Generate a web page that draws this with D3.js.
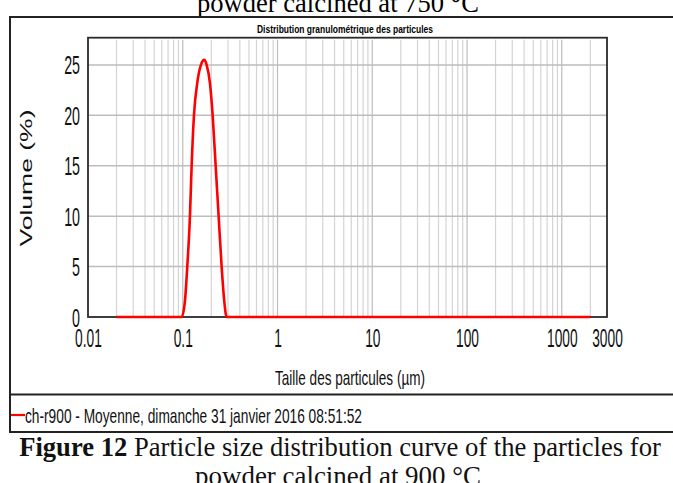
<!DOCTYPE html>
<html><head><meta charset="utf-8">
<script src="https://cdn.jsdelivr.net/npm/d3@7"></script>
<style>body{margin:0;background:#fff;} svg{display:block}</style>
</head><body>
<svg id="c" width="673" height="483"></svg>
<script>
// ---- data ----
const sizes   = [0.02, 0.09, 0.0974, 0.1055, 0.1116, 0.1191, 0.1241, 0.1313, 0.1422, 0.1556, 0.1686, 0.1787, 0.1936, 0.2068, 0.2224, 0.2391, 0.2572, 0.2740, 0.2905, 0.32, 2000];
const volumes = [0,    0,    0,      1.6,    5,      10,     15,     20,     23.2,   25,     25.5,   25,     23.2,   20,     15,     10,     5,      1.6,    0,      0,    0];
const xTicks = [0.01, 0.1, 1, 10, 100, 1000, 3000];
const xTickLabels = ["0.01", "0.1", "1", "10", "100", "1000", "3000"];
const yTicks = [0, 5, 10, 15, 20, 25];
const chartTitle = "Distribution granulométrique des particules";
const xTitle = "Taille des particules (µm)";
const yTitle = "Volume (%)";
const legendLabel = "ch-r900 - Moyenne, dimanche 31 janvier 2016 08:51:52";
const topCaption = "powder calcined at 750 °C";
const capBold = "Figure 12";
const capRest = " Particle size distribution curve of the particles for";
const capLine2 = "powder calcined at 900 °C";

const svg = d3.select("#c");
const L = 88, R = 607, T = 37.7, B = 317;
const x = d3.scaleLog().domain([0.01, 3000]).range([L, R]);
const y = d3.scaleLinear().domain([0, 27.7]).range([B, T]);
const sans = "'Liberation Sans', Arial, sans-serif";
const serif = "'Liberation Serif', 'Times New Roman', serif";

function condense(sel, f) {
  sel.each(function () {
    const len = this.getComputedTextLength();
    d3.select(this).attr("textLength", len * f).attr("lengthAdjust", "spacingAndGlyphs");
  });
}
function fitWidth(sel, w) {
  sel.attr("textLength", w).attr("lengthAdjust", "spacingAndGlyphs");
}

// top caption (cut off)
const tc = svg.append("text").attr("x", 338).attr("y", 12).attr("text-anchor", "middle")
  .attr("font-family", serif).attr("font-size", 22).text(topCaption);
{ const len = tc.node().getComputedTextLength(); tc.attr("font-size", 22 * 282 / len); }

// frame
const frame = svg.append("g").attr("stroke", "#222").attr("stroke-width", 2).attr("fill", "none");
frame.append("path").attr("d", `M680,17H10V432H680`);
frame.append("line").attr("x1", 10).attr("x2", 680).attr("y1", 394.5).attr("y2", 394.5);

// chart title
svg.append("text").attr("x", 345).attr("y", 33.3).attr("text-anchor", "middle")
  .attr("font-family", sans).attr("font-weight", "bold").attr("font-size", 10.5)
  .text(chartTitle).call(fitWidth, 176);

// grid
const grid = svg.append("g");
const minor = x.ticks().filter(v => v > 0.0100001 && v < 2999);
grid.selectAll("line.v").data(minor).join("line")
  .attr("x1", d => x(d)).attr("x2", d => x(d)).attr("y1", T + 2).attr("y2", B)
  .attr("stroke", d => xTicks.includes(d) ? "#bdbdbd" : "#d4d4d4").attr("stroke-width", 1.2);
grid.selectAll("line.h").data(yTicks.filter(v => v > 0)).join("line")
  .attr("x1", L).attr("x2", R).attr("y1", d => y(d)).attr("y2", d => y(d))
  .attr("stroke", "#bdbdbd").attr("stroke-width", 1.5);

// axes labels via d3 axes
const gx = svg.append("g").attr("transform", `translate(0,${B})`)
  .call(d3.axisBottom(x).tickValues(xTicks).tickFormat((d, i) => xTickLabels[i]).tickSize(0).tickPadding(0));
gx.select(".domain").remove();
gx.selectAll("text").attr("dy", null).attr("y", 30).attr("font-family", sans).attr("font-size", 25).attr("fill", "#111")
  .call(condense, 0.55);

const gy = svg.append("g").attr("transform", `translate(${L},0)`)
  .call(d3.axisLeft(y).tickValues(yTicks).tickSize(0).tickPadding(0));
gy.select(".domain").remove();
gy.selectAll("text").attr("dy", null).attr("x", -8).attr("y", 9).attr("font-family", sans).attr("font-size", 25).attr("fill", "#111")
  .call(condense, 0.57);

// plot border
svg.append("rect").attr("x", L).attr("y", T).attr("width", R - L).attr("height", B - T)
  .attr("fill", "none").attr("stroke", "#2a2a2a").attr("stroke-width", 1.8);

// curve
const line = d3.line().x((d, i) => x(sizes[i])).y(d => y(d)).curve(d3.curveMonotoneX);
svg.append("path").datum(volumes).attr("d", line).attr("fill", "none")
  .attr("stroke", "#ff0000").attr("stroke-width", 2.6).attr("stroke-linejoin", "round");

// axis titles
svg.append("text").attr("x", 350).attr("y", 385).attr("text-anchor", "middle")
  .attr("font-family", sans).attr("font-size", 21).attr("fill", "#111").text(xTitle).call(fitWidth, 150);
svg.append("text").attr("transform", "translate(32,178) rotate(-90)").attr("text-anchor", "middle")
  .attr("font-family", sans).attr("font-size", 16).attr("fill", "#111").text(yTitle).call(fitWidth, 137);

// legend
svg.append("line").attr("x1", 11).attr("x2", 25).attr("y1", 415).attr("y2", 415)
  .attr("stroke", "#ff0000").attr("stroke-width", 2.2);
svg.append("text").attr("x", 25).attr("y", 423).attr("font-family", sans).attr("font-size", 21).attr("fill", "#111")
  .text(legendLabel).call(fitWidth, 337);

// caption
const cap = svg.append("text").attr("x", 340).attr("y", 456).attr("text-anchor", "middle")
  .attr("font-family", serif).attr("font-size", 22).attr("fill", "#111");
cap.append("tspan").attr("font-weight", "bold").text(capBold);
cap.append("tspan").text(capRest);
{ const len = cap.node().getComputedTextLength(); cap.attr("font-size", 22 * 642 / len); }
const cap2 = svg.append("text").attr("x", 338).attr("y", 485).attr("text-anchor", "middle")
  .attr("font-family", serif).attr("font-size", 22).attr("fill", "#111").text(capLine2);
{ const len = cap2.node().getComputedTextLength(); cap2.attr("font-size", 22 * 286 / len); }
</script>
</body></html>
